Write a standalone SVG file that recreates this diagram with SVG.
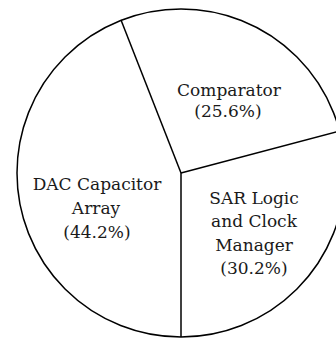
<svg xmlns="http://www.w3.org/2000/svg" width="336" height="340" viewBox="0 0 336 340">
<style>
.s{fill:#fff;stroke:#000;stroke-width:1.5}
.t{font-family:'DejaVu Serif',serif;font-size:17px;fill:#1a1a1a;text-anchor:middle}
</style>
<rect width="336" height="340" fill="#fff"/>
<g id="pie">
<circle class="s" cx="181" cy="173" r="164"/>
</g>
<g id="connectors" stroke="#000" stroke-width="1.5" fill="none">
<line x1="181" y1="173" x2="121" y2="20"/>
<line x1="181" y1="173" x2="340" y2="131"/>
<line x1="181" y1="173" x2="181" y2="337"/>
</g>
<g id="comparator">
<text class="t" x="229" y="96">Comparator</text>
<text class="t" x="228" y="117">(25.6%)</text>
</g>
<g id="dac">
<text class="t" x="97" y="190">DAC Capacitor</text>
<text class="t" x="96" y="214">Array</text>
<text class="t" x="97" y="238">(44.2%)</text>
</g>
<g id="sar">
<text class="t" x="254" y="204">SAR Logic</text>
<text class="t" x="254" y="227">and Clock</text>
<text class="t" x="254" y="251">Manager</text>
<text class="t" x="254" y="274">(30.2%)</text>
</g>
</svg>
